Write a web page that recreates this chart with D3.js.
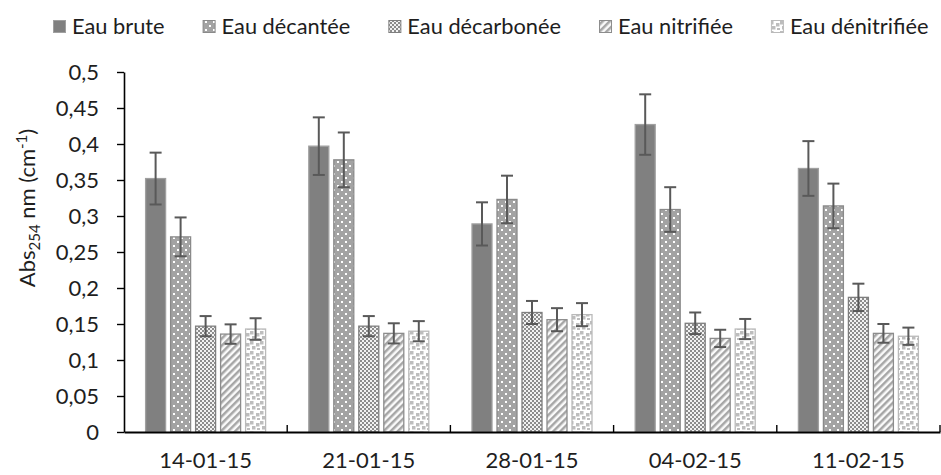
<!DOCTYPE html>
<html><head><meta charset="utf-8">
<script src="https://cdn.jsdelivr.net/npm/d3@7"></script>
<style>
body{margin:0;background:#fff}
svg{display:block}
text{font-family:Lato,"Open Sans",sans-serif;fill:#1e1e1e}
</style>
</head><body>
<svg id="c" width="941" height="475"></svg>
<script>
const dates = ["14-01-15","21-01-15","28-01-15","04-02-15","11-02-15"];
const seriesNames = ["Eau brute","Eau décantée","Eau décarbonée","Eau nitrifiée","Eau dénitrifiée"];
const eauBrute       = [0.352,0.397,0.289,0.427,0.366];
const eauBruteErr    = [0.036,0.040,0.030,0.042,0.038];
const eauDecantee    = [0.271,0.378,0.323,0.309,0.314];
const eauDecanteeErr = [0.027,0.038,0.033,0.031,0.031];
const eauDecarb      = [0.147,0.147,0.166,0.151,0.187];
const eauDecarbErr   = [0.014,0.014,0.016,0.015,0.019];
const eauNitri       = [0.136,0.137,0.156,0.130,0.137];
const eauNitriErr    = [0.0135,0.014,0.016,0.012,0.013];
const eauDenitri     = [0.143,0.140,0.163,0.143,0.133];
const eauDenitriErr  = [0.015,0.014,0.016,0.014,0.012];
const yTicks = [0,0.05,0.1,0.15,0.2,0.25,0.3,0.35,0.4,0.45,0.5];

const values = [eauBrute,eauDecantee,eauDecarb,eauNitri,eauDenitri];
const errors = [eauBruteErr,eauDecanteeErr,eauDecarbErr,eauNitriErr,eauDenitriErr];

const svg = d3.select("#c");
const defs = svg.append("defs");

// patterns
const pDec = defs.append("pattern").attr("id","pDec").attr("patternUnits","userSpaceOnUse").attr("width",8).attr("height",8);
pDec.append("rect").attr("width",8).attr("height",8).attr("fill","#a3a3a3");
pDec.append("rect").attr("x",1).attr("y",1).attr("width",2).attr("height",2).attr("fill","#fff");
pDec.append("rect").attr("x",5).attr("y",5).attr("width",2).attr("height",2).attr("fill","#fff");

const pCarb = defs.append("pattern").attr("id","pCarb").attr("patternUnits","userSpaceOnUse").attr("width",4).attr("height",4);
pCarb.append("rect").attr("width",4).attr("height",4).attr("fill","#f2f2f2");
pCarb.append("rect").attr("width",2).attr("height",2).attr("fill","#8c8c8c");
pCarb.append("rect").attr("x",2).attr("y",2).attr("width",2).attr("height",2).attr("fill","#8c8c8c");

const pNit = defs.append("pattern").attr("id","pNit").attr("patternUnits","userSpaceOnUse").attr("width",5).attr("height",5).attr("patternTransform","rotate(45)");
pNit.append("rect").attr("width",5).attr("height",5).attr("fill","#fafafa");
pNit.append("rect").attr("width",2.5).attr("height",5).attr("fill","#a6a6a6");

const pDen = defs.append("pattern").attr("id","pDen").attr("patternUnits","userSpaceOnUse").attr("width",10).attr("height",10);
pDen.append("rect").attr("width",10).attr("height",10).attr("fill","#fff");
[[0,1],[6,3],[2,6],[7,8]].forEach(([px,py])=>pDen.append("rect").attr("x",px).attr("y",py).attr("width",3.5).attr("height",3.5).attr("fill","#bdbdbd"));

const fills   = ["#808080","url(#pDec)","url(#pCarb)","url(#pNit)","url(#pDen)"];
const strokes = ["#a0a0a0","#8a8a8a","#7f7f7f","#8c8c8c","#bababa"];

const mLeft=124, mRight=940, mTop=72, mBottom=432;
const x = d3.scaleBand().domain(dates).range([mLeft,mRight]).padding(0);
const xs = d3.scaleBand().domain(seriesNames).range([0,121]).paddingInner(0.16).paddingOuter(0);
const off = (x.bandwidth()-121)/2;
const y = d3.scaleLinear().domain([0,0.5]).range([mBottom,mTop]);

// bars
seriesNames.forEach((s,si)=>{
  const g = svg.append("g");
  g.selectAll("rect").data(dates).join("rect")
    .attr("x",d=>x(d)+off+xs(s)+0.5)
    .attr("y",(d,i)=>y(values[si][i]))
    .attr("width",xs.bandwidth()-1)
    .attr("height",(d,i)=>y(0)-y(values[si][i]))
    .attr("fill",fills[si]).attr("stroke",strokes[si]).attr("stroke-width",1.3);
});
// error bars
seriesNames.forEach((s,si)=>{
  const g = svg.append("g").attr("stroke","#595959").attr("stroke-width",2);
  dates.forEach((d,i)=>{
    const cx = x(d)+off+xs(s)+xs.bandwidth()/2;
    const v=values[si][i], e=errors[si][i];
    g.append("line").attr("x1",cx).attr("x2",cx).attr("y1",y(v+e)).attr("y2",y(v-e));
    g.append("line").attr("x1",cx-6).attr("x2",cx+6).attr("y1",y(v+e)).attr("y2",y(v+e));
    g.append("line").attr("x1",cx-6).attr("x2",cx+6).attr("y1",y(v-e)).attr("y2",y(v-e));
  });
});

// y axis
const ya = svg.append("g").attr("transform",`translate(${mLeft},0)`)
  .call(d3.axisLeft(y).tickValues(yTicks).tickSize(7).tickSizeOuter(0).tickPadding(18)
    .tickFormat(d=>d3.format(".2~f")(d).replace(".",",")));
ya.select(".domain").attr("stroke","#000").attr("stroke-width",1.6);
ya.selectAll(".tick line").attr("stroke","#000").attr("stroke-width",1.4);
ya.selectAll("text").attr("font-size",22).style("font-family","Lato").attr("fill","#1e1e1e");

// x axis
const xa = svg.append("g").attr("transform",`translate(0,${mBottom})`)
  .call(d3.axisBottom(x).tickSize(0).tickSizeOuter(0).tickPadding(20));
xa.select(".domain").attr("stroke","#000").attr("stroke-width",2);
xa.selectAll("text").attr("font-size",22).style("font-family","Lato").attr("fill","#1e1e1e");
const edges = dates.map(d=>x(d)).concat([x(dates[dates.length-1])+x.bandwidth()]);
svg.append("g").selectAll("line").data(edges.slice(1)).join("line")
  .attr("x1",d=>d).attr("x2",d=>d).attr("y1",mBottom).attr("y2",mBottom-7)
  .attr("stroke","#000").attr("stroke-width",1.4);

// y title
const t = svg.append("text").attr("transform",`translate(35,208) rotate(-90)`)
  .attr("text-anchor","middle").attr("font-size",22);
t.append("tspan").text("Abs");
t.append("tspan").attr("font-size",15).attr("dy",5).text("254");
t.append("tspan").attr("dy",-5).text(" nm (cm");
t.append("tspan").attr("font-size",15).attr("dy",-8).text("-1");
t.append("tspan").attr("dy",8).text(")");

// legend
let lx = 53;
const leg = svg.append("g");
seriesNames.forEach((s,si)=>{
  leg.append("rect").attr("x",lx+0.5).attr("y",20.5).attr("width",12).attr("height",12)
    .attr("fill",fills[si]).attr("stroke",strokes[si]).attr("stroke-width",1);
  const tx = leg.append("text").attr("x",lx+19).attr("y",34).attr("font-size",21.8).text(s);
  lx += 19 + tx.node().getComputedTextLength() + 38;
});
</script>
</body></html>
